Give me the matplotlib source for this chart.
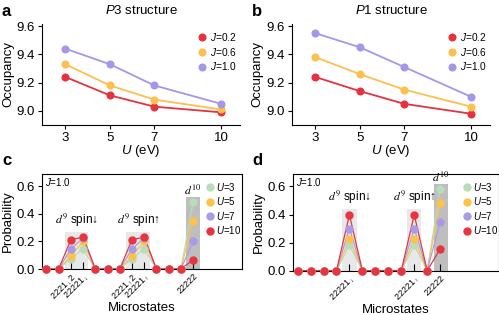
import numpy as np
import matplotlib.pyplot as plt

plt.rcParams["font.family"] = ["Liberation Sans", "DejaVu Sans"]
plt.rcParams["mathtext.fontset"] = "custom"
plt.rcParams["mathtext.it"] = "Liberation Sans:italic"
plt.rcParams["mathtext.rm"] = "Liberation Sans"

## -- data --
U = [3, 5, 7, 10]
J_lbl = ["$J$=0.2", "$J$=0.6", "$J$=1.0"]
occ_p3 = [
    [9.24, 9.11, 9.03, 8.99],
    [9.33, 9.18, 9.08, 9.01],
    [9.44, 9.33, 9.18, 9.05],
]
occ_p1 = [
    [9.24, 9.14, 9.05, 8.98],
    [9.38, 9.26, 9.15, 9.03],
    [9.55, 9.45, 9.31, 9.10],
]
U_lbl = ["$U$=3", "$U$=5", "$U$=7", "$U$=10"]
# probabilities per microstate, panel c (13 states) and d (12 states)
prob_c = [
    [0, 0, 0.076, 0.146, 0, 0, 0, 0.076, 0.146, 0, 0, 0, 0.485],
    [0, 0, 0.093, 0.200, 0, 0, 0, 0.093, 0.200, 0, 0, 0, 0.351],
    [0, 0, 0.144, 0.227, 0, 0, 0, 0.144, 0.227, 0, 0, 0, 0.200],
    [0, 0, 0.212, 0.232, 0, 0, 0, 0.212, 0.232, 0, 0, 0, 0.066],
]
prob_d = [
    [0, 0, 0, 0, 0.182, 0, 0, 0, 0, 0.182, 0, 0.580],
    [0, 0, 0, 0, 0.228, 0, 0, 0, 0, 0.228, 0, 0.485],
    [0, 0, 0, 0, 0.300, 0, 0, 0, 0, 0.300, 0, 0.346],
    [0, 0, 0, 0, 0.398, 0, 0, 0, 0, 0.398, 0, 0.154],
]
tick_c = [2, 3, 7, 8, 12]
tick_lbl_c = ["2221$_\\downarrow$2", "22221$_\\downarrow$",
              "2221$_\\uparrow$2", "22221$_\\uparrow$", "22222"]
tick_d = [4, 9, 11]
tick_lbl_d = ["22221$_\\downarrow$", "22221$_\\uparrow$", "22222"]
## -- end data --

cJ = ["#e5323e", "#fdc04e", "#a597e6"]
cU = ["#b9dcb9", "#fec24a", "#a99be6", "#e63540"]

fig = plt.figure(figsize=(4.99, 3.15), dpi=100)
ax_a = fig.add_axes([0.0842, 0.603, 0.397, 0.321])
ax_b = fig.add_axes([0.585, 0.603, 0.397, 0.321])
ax_c = fig.add_axes([0.0842, 0.146, 0.4008, 0.302])
ax_d = fig.add_axes([0.587, 0.141, 0.412, 0.307])


def occ_panel(ax, data, title):
    for row, c, l in zip(data, cJ, J_lbl):
        ax.plot(U, row, "-o", color=c, lw=1.3, ms=4.8, label=l)
    ax.set_xlim(1.95, 10.85)
    ax.set_ylim(8.9, 9.615)
    ax.set_xticks(U)
    ax.set_yticks([9.0, 9.2, 9.4, 9.6])
    ax.set_yticklabels(["9.0", "9.2", "9.4", "9.6"])
    ax.spines["top"].set_visible(False)
    ax.spines["right"].set_visible(False)
    ax.tick_params(labelsize=9.5, length=3, width=0.8, pad=2)
    ax.set_xlabel("$U$ (eV)", fontsize=9.5, labelpad=-1)
    ax.set_ylabel("Occupancy", fontsize=9.5, labelpad=2)
    ax.set_title(title, fontsize=9.5, pad=7)
    ax.legend(loc="upper right", bbox_to_anchor=(1.03, 1.02), frameon=False,
              fontsize=7.3, handlelength=0.6, handletextpad=0.5,
              labelspacing=0.25)
    for ln in ax.get_legend().get_lines():
        ln.set_linestyle("")


occ_panel(ax_a, occ_p3, "$P$3 structure")
occ_panel(ax_b, occ_p1, "$P$1 structure")


def prob_panel(ax, data, ticks, tlbl, boxes, dbox, lbl_pos, xmax):
    x = np.arange(len(data[0]))
    for x0, x1, h in boxes:
        ax.fill_between([x0, x1], 0, h, color="#e8e8e8", lw=0, zorder=0)
    ax.fill_between([dbox[0], dbox[1]], 0, dbox[2], color="#bebebe", lw=0, zorder=0)
    for row, c, l in zip(data, cU, U_lbl):
        ax.plot(x, row, "-", color=c, lw=0.9, zorder=2)
        ax.plot(x, row, "o", color=c, ms=5, label=l, zorder=3, clip_on=False)
    ax.set_xlim(-0.36, xmax)
    ax.set_ylim(0, 0.69)
    ax.set_yticks([0, 0.2, 0.4, 0.6])
    ax.set_yticklabels(["0.0", "0.2", "0.4", "0.6"])
    ax.set_xticks(ticks)
    ax.set_xticklabels(tlbl, rotation=45, ha="right", rotation_mode="anchor",
                       fontsize=6.5)
    ax.tick_params(axis="x", direction="in", length=5, width=0.8, pad=2)
    ax.tick_params(axis="y", labelsize=9.5, length=3, width=0.8, pad=2)
    ax.set_xlabel("Microstates", fontsize=9.5)
    ax.xaxis.set_label_coords(0.5, -0.345)
    ax.set_ylabel("Probability", fontsize=9.5, labelpad=2)
    ax.text(0.015, 0.975, "$J$=1.0", transform=ax.transAxes, fontsize=7,
            va="top", ha="left")
    for tx, ty, s in lbl_pos:
        ax.text(tx, ty, s, fontsize=8.5, ha="center", va="bottom",
                math_fontfamily="stix")
    ax.legend(loc="upper right", bbox_to_anchor=(1.04, 1.02), frameon=False,
              fontsize=7, handlelength=0.6, handletextpad=0.3,
              labelspacing=0.25)


prob_panel(ax_c, prob_c, tick_c, tick_lbl_c,
           [(1.48, 3.44, 0.27), (6.48, 8.44, 0.27)], (11.43, 12.6, 0.52),
           [(2.5, 0.29, "$d^9$ spin\u2193"), (7.5, 0.29, "$d^9$ spin\u2191"),
            (12.0, 0.515, "$d^{10}$")], 16.0)
prob_panel(ax_d, prob_d, tick_d, tick_lbl_d,
           [(3.45, 4.55, 0.44), (8.45, 9.55, 0.44)], (10.5, 11.6, 0.62),
           [(4.0, 0.46, "$d^9$ spin\u2193"), (9.0, 0.46, "$d^9$ spin\u2191"),
            (11.0, 0.612, "$d^{10}$")], 15.5)

for t, (px, py) in zip("abcd", [(0.004, 0.962), (0.505, 0.962),
                                 (0.004, 0.49), (0.505, 0.49)]):
    fig.text(px, py, t, fontsize=12, fontweight="bold", va="center")

plt.savefig("out.png", dpi=100)
